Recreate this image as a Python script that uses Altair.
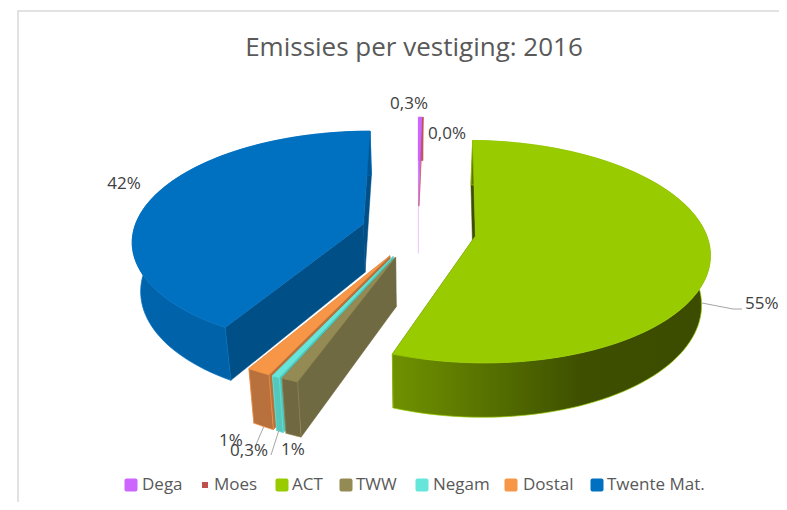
import math
import pandas as pd
import altair as alt

# --- data ---
names = ["Dega", "Moes", "ACT", "TWW", "Negam", "Dostal", "Twente Mat."]
shares = [0.3, 0.04, 55.05, 1.0, 0.45, 1.4, 41.4]
explode = [55.0, 55.0, 58.0, 58.0, 58.0, 58.0, 57.0]
top_cols = ["#cc66ff", "#c0504d", "#99cc00", "#948a54", "#66e6da", "#f79646", "#0070c0"]
side_cols = ["#e8b8ff", "#e8b8ff", "#3f4f00", "#706a42", "#4fc4ba", "#b9713c", "#004f87"]
front_cols = ["#b050e0", "#8a3a38", "#5a7500", "#6f6840", "#55c8be", "#b8703c", "#005590"]
pct_labels = ["0,3%", "0,0%", "42%", "55%", "1%", "0,3%", "1%"]

# --- layout of the 3D view ---
CX, CY, R = 418.0, 231.0, 230.0
TILT, PERSP = 0.468, 0.139
DEPTH, DEPTH_GROW, XSHRINK, VX, Y0 = 44.0, 0.045, 0.97, 415.0, 131.0

xs = alt.Scale(domain=[8, 779], range=[0, 771])
ys = alt.Scale(domain=[8, 502], range=[0, 494])


def project(X, Y):
    k = 1 / (1 + PERSP * Y / R)
    return CX + X * k, CY - TILT * Y * k


def lower(p):
    x, y = p
    return VX + (x - VX) * XSHRINK, y + DEPTH + (y - Y0) * DEPTH_GROW


def polygon(points, fill, stroke=None, sw=0.8):
    df = pd.DataFrame({"x": [p[0] for p in points], "y": [p[1] for p in points], "i": range(len(points))})
    return alt.Chart(df).mark_line(
        interpolate="linear-closed", fill=fill, stroke=stroke or fill, strokeWidth=sw
    ).encode(
        x=alt.X("x:Q", scale=xs, axis=None),
        y=alt.Y("y:Q", scale=ys, axis=None),
        order=alt.Order("i:Q"),
    )


def grad(stops):
    return alt.Gradient(
        gradient="linear", x1=0, x2=1, y1=0, y2=0,
        stops=[alt.GradientStop(offset=o, color=c) for o, c in stops],
    )


total = sum(shares)
angle = 0.0
slices = {}
for name, share, ex in zip(names, shares, explode):
    a0 = angle
    a1 = angle + 360 * share / total
    angle = a1
    mid = math.radians((a0 + a1) / 2)
    ox, oy = ex * math.sin(mid), ex * math.cos(mid)
    n = max(2, int((a1 - a0) / 2))
    arc = []
    for j in range(n + 1):
        t = math.radians(a0 + (a1 - a0) * j / n)
        arc.append(project(ox + R * math.sin(t), oy + R * math.cos(t)))
    slices[name] = dict(arc=arc, apex=project(ox, oy))

wall_fills = {
    "ACT": grad([(0, "#6f9100"), (0.15, "#648200"), (0.45, "#4a6000"), (0.6, "#3e4f00"), (1, "#3c4c00")]),
    "Twente Mat.": grad([(0, "#0064ac"), (0.5, "#0061a6"), (1, "#005492")]),
}

layers = []
frame = alt.Chart(pd.DataFrame({"x": [18], "x2": [800], "y": [11], "y2": [520]})).mark_rect(
    fill="white", stroke="#d9d9d9", strokeWidth=1.5, clip=True
).encode(
    x=alt.X("x:Q", scale=xs, axis=None), x2="x2:Q",
    y=alt.Y("y:Q", scale=ys, axis=None), y2="y2:Q",
)
layers.append(frame)

order = ["Dega", "Moes", "Twente Mat.", "ACT", "Dostal", "Negam", "TWW"]
for name in order:
    i = names.index(name)
    s = slices[name]
    arc, apex = s["arc"], s["apex"]
    low_arc = [lower(p) for p in arc]
    a_low = lower(apex)
    if name != "Moes":
        layers.append(polygon([apex, arc[0], low_arc[0], a_low], side_cols[i], sw=0.5))
    if name not in ("Moes", "Dega"):
        layers.append(polygon([apex, arc[-1], low_arc[-1], a_low], side_cols[i], sw=0.5))
    fill = wall_fills.get(name, front_cols[i])
    layers.append(polygon(arc + low_arc[::-1], fill, stroke=top_cols[i], sw=0.7))
    layers.append(polygon([apex] + arc, top_cols[i], sw=0.5))

# leader lines
leaders = [
    [(702, 303), (733, 309), (742, 309)],
    [(264, 426), (255, 447)],
    [(279, 430), (271, 455)],
]
for pts in leaders:
    df = pd.DataFrame({"x": [p[0] for p in pts], "y": [p[1] for p in pts], "i": range(len(pts))})
    layers.append(alt.Chart(df).mark_line(stroke="#a6a6a6", strokeWidth=1).encode(
        x=alt.X("x:Q", scale=xs, axis=None), y=alt.Y("y:Q", scale=ys, axis=None), order="i:Q"))

# percentage labels
label_x = [409, 447, 124, 745, 293, 249, 231]
label_y = [104, 134, 184, 304, 450, 451, 441]
label_align = ["center", "center", "center", "left", "center", "center", "center"]
for t, x, y, al in zip(pct_labels, label_x, label_y, label_align):
    df = pd.DataFrame({"x": [x], "y": [y], "t": [t]})
    layers.append(alt.Chart(df).mark_text(
        font="Open Sans", fontSize=17, color="#404040", align=al, baseline="middle"
    ).encode(x=alt.X("x:Q", scale=xs, axis=None), y=alt.Y("y:Q", scale=ys, axis=None), text="t:N"))

# title
layers.append(alt.Chart(pd.DataFrame({"x": [414], "y": [48], "t": ["Emissies per vestiging: 2016"]})).mark_text(
    font="Open Sans", fontSize=26, color="#595959", align="center", baseline="middle"
).encode(x=alt.X("x:Q", scale=xs, axis=None), y=alt.Y("y:Q", scale=ys, axis=None), text="t:N"))

# legend
swatch_x = [131, 205, 282, 346, 422, 511, 597]
text_x = [142, 214, 292, 356, 433, 523, 607]
swatch_size = [13, 6, 13, 13, 13, 13, 13]
for name, col, sx, tx, sz in zip(names, top_cols, swatch_x, text_x, swatch_size):
    df = pd.DataFrame({"x": [sx], "tx": [tx], "y": [485], "t": [name]})
    layers.append(alt.Chart(df).mark_rect(
        width=sz, height=sz, color=col, cornerRadius=2 if sz > 6 else 0
    ).encode(x=alt.X("x:Q", scale=xs, axis=None), y=alt.Y("y:Q", scale=ys, axis=None)))
    layers.append(alt.Chart(df).mark_text(
        font="Open Sans", fontSize=17, color="#595959", align="left", baseline="middle"
    ).encode(x=alt.X("tx:Q", scale=xs, axis=None), y=alt.Y("y:Q", scale=ys, axis=None), text="t:N"))

chart = alt.layer(*layers).properties(
    width=771, height=494, padding=0,
    autosize=alt.AutoSizeParams(type="none"),
    background="white",
).configure_view(stroke=None)

chart.save("out.html", embed_options={"renderer": "svg", "actions": False})
